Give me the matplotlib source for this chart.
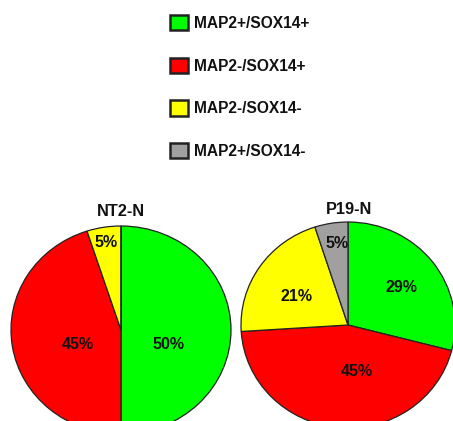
import matplotlib
matplotlib.use("Agg")
import matplotlib.pyplot as plt
from matplotlib.patches import Patch

plt.rcParams['font.family'] = ['Liberation Sans', 'DejaVu Sans']

# ---- data ----
categories = ["MAP2+/SOX14+", "MAP2-/SOX14+", "MAP2-/SOX14-", "MAP2+/SOX14-"]
colors = ["#00ff00", "#ff0000", "#ffff00", "#a0a0a0"]
nt2_values = [50, 45, 5, 0]
p19_values = [29, 45, 21, 5]
titles = ["NT2-N", "P19-N"]

W, H = 453, 421
fig = plt.figure(figsize=(W / 100, H / 100), dpi=100)
fig.patch.set_facecolor("white")


def px_axes(left, top, right, bottom):
    return fig.add_axes([left / W, 1 - bottom / H, (right - left) / W, (bottom - top) / H])


def draw_pie(ax, values, label_pos):
    wedges, _ = ax.pie(values, colors=colors, startangle=90, counterclock=False,
                       wedgeprops=dict(edgecolor="#222222", linewidth=0.9))
    ax.set_aspect("auto")
    ax.set_xlim(-1, 1)
    ax.set_ylim(-1, 1)
    ax.axis("off")
    for v, pos in zip(values, label_pos):
        if v > 0 and pos is not None:
            ax.text(pos[0], pos[1], f"{v}%", ha="center", va="center",
                    fontsize=11.5, fontweight="bold", color="#111111")


# NT2-N pie (center ~ (121,330))
ax1 = px_axes(11, 226, 231, 434)
draw_pie(ax1, nt2_values, [(0.43, -0.135), (-0.39, -0.135), (-0.136, 0.846), None])

# P19-N pie (center ~ (348,325))
ax2 = px_axes(241, 222, 455, 428)
draw_pie(ax2, p19_values, [(0.495, 0.36), (0.084, -0.447), (-0.477, 0.272), (-0.103, 0.796)])

fig.text(121 / W, 1 - 212 / H, titles[0], ha="center", va="center",
         fontsize=11.8, fontweight="bold", color="#111111")
fig.text(349 / W, 1 - 210 / H, titles[1], ha="center", va="center",
         fontsize=11.8, fontweight="bold", color="#111111")

# legend
handles = [Patch(facecolor=c, edgecolor="#222222", linewidth=1.8) for c in colors]
leg = fig.legend(handles, categories, loc="upper left",
                 bbox_to_anchor=(162 / W, 1 - 7 / H),
                 frameon=False, prop=dict(size=11.2, weight="bold"),
                 handlelength=1.2, handleheight=1.15, handletextpad=0.38,
                 labelspacing=1.72, borderpad=0.0)
for t in leg.get_texts():
    t.set_color("#111111")

fig.savefig("out.png", dpi=100, facecolor="white")
